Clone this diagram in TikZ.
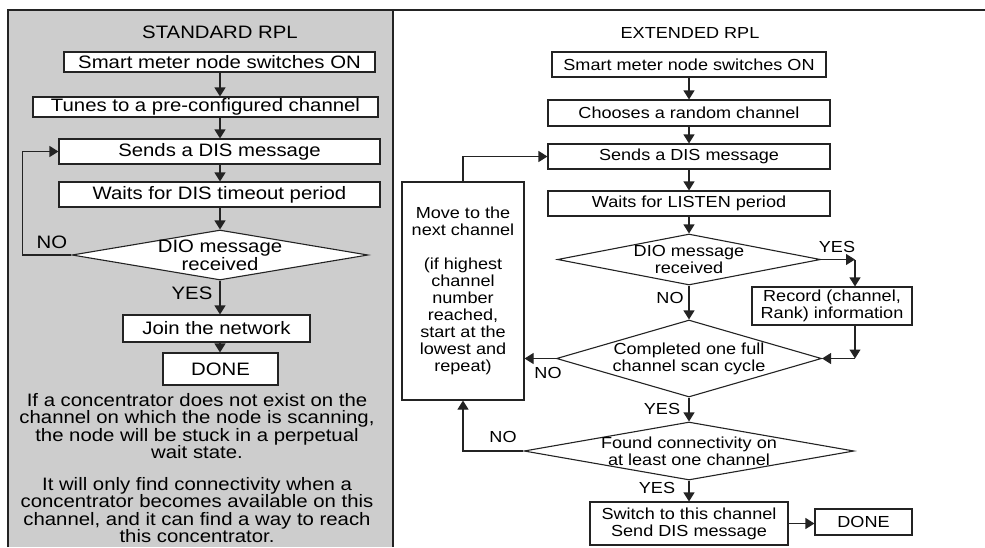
\documentclass[tikz,border=0pt]{standalone}
\usepackage{fontspec}
\setmainfont[FakeStretch=1.13]{Liberation Sans}
\usetikzlibrary{arrows.meta,shapes.geometric}
\definecolor{panelgray}{RGB}{205,205,205}
\definecolor{ink}{RGB}{35,35,35}
\begin{document}
\begin{tikzpicture}[x=1pt,y=-1pt,
  box/.style={draw=ink, line width=1.1pt, fill=white, inner sep=0pt, align=center},
  dia/.style={draw=ink, line width=1.1pt, fill=white, diamond, inner sep=0pt},
  arr/.style={draw=ink, line width=1.1pt, -{Triangle[length=9pt,width=11pt]}},
  lf/.style={font=\fontsize{18}{18}\selectfont},
  rf/.style={font=\fontsize{16}{17}\selectfont},
]
\useasboundingbox (0,0) rectangle (985,547);
\fill[panelgray] (8,10) rectangle (393,547);
\draw[ink, line width=1.2pt] (8,547) -- (8,10) -- (985,10);
\draw[ink, line width=2pt] (393,10) -- (393,547);

% ---------------- STANDARD RPL ----------------
\node[lf] (TL) at (220,32) {STANDARD RPL};
\node[box, lf, minimum width=311pt, minimum height=20pt] (L1) at (219.5,62) {Smart meter node switches ON};
\node[box, lf, minimum width=345pt, minimum height=20pt] (L2) at (205.5,107) {Tunes to a pre-configured channel};
\node[box, lf, minimum width=321pt, minimum height=25pt] (L3) at (219.5,151.5) {Sends a DIS message};
\node[box, lf, minimum width=321pt, minimum height=25pt] (L4) at (219.5,194.5) {Waits for DIS timeout period};
\node[dia, minimum width=296pt, minimum height=50pt,
      label={[lf,align=center]center:DIO message\\received}] (LD) at (220,255) {};
\node[box, lf, minimum width=187pt, minimum height=27pt] (L5) at (216.5,328.5) {Join the network};
\node[box, lf, minimum width=115pt, minimum height=32pt] (L6) at (220.5,369) {DONE};

\draw[arr] (L1.south -| LD.north) -- (L2.north -| LD.north);
\draw[arr] (L2.south -| LD.north) -- (L3.north -| LD.north);
\draw[arr] (L3.south -| LD.north) -- (L4.north -| LD.north);
\draw[arr] (L4.south -| LD.north) -- (LD.north);
\draw[arr] (LD.west) -- ++(-49,0) |- (L3.west);
\node[lf] (LNO) at (52,242) {NO};
\draw[arr] (LD.south) -- (L5.north -| LD.south);
\node[lf] (LYES) at (192,293) {YES};
\draw[arr] (L5.south -| LD.south) -- (L6.north -| LD.south);

\node[align=center, font=\fontsize{18}{17.5}\selectfont] (P1) at (197,426) {If a concentrator does not exist on the\\channel on which the node is scanning,\\the node will be stuck in a perpetual\\wait state.};
\node[align=center, font=\fontsize{18}{17.2}\selectfont] (P2) at (197,510) {It will only find connectivity when a\\concentrator becomes available on this\\channel, and it can find a way to reach\\this concentrator.};

% ---------------- EXTENDED RPL ----------------
\node[rf] (TR) at (690,33) {EXTENDED RPL};
\node[box, rf, minimum width=274pt, minimum height=25pt] (R1) at (689,64.5) {Smart meter node switches ON};
\node[box, rf, minimum width=282pt, minimum height=26pt] (R2) at (689,113) {Chooses a random channel};
\node[box, rf, minimum width=282pt, minimum height=25pt] (R3) at (689,156.5) {Sends a DIS message};
\node[box, rf, minimum width=282pt, minimum height=25pt] (R4) at (689,203.5) {Waits for LISTEN period};
\node[dia, minimum width=263pt, minimum height=51pt,
      label={[rf,align=center]center:DIO message\\received}] (RD1) at (689,259.5) {};
\node[box, rf, minimum width=160pt, minimum height=38pt] (REC) at (832,306) {Record (channel,\\Rank) information};
\node[dia, minimum width=265pt, minimum height=77pt,
      label={[rf,align=center]center:Completed one full\\channel scan cycle}] (RD2) at (689,358.5) {};
\node[dia, minimum width=330pt, minimum height=58pt,
      label={[rf,align=center]center:Found connectivity on\\at least one channel}] (RD3) at (689,451) {};
\node[box, rf, minimum width=122pt, minimum height=218pt] (MV) at (463,291) {Move to the\\next channel\\[17pt](if highest\\channel\\number\\reached,\\start at the\\lowest and\\repeat)};
\node[box, rf, minimum width=198pt, minimum height=43pt] (SW) at (689,523.5) {Switch to this channel\\Send DIS message};
\node[box, rf, minimum width=97pt, minimum height=26pt] (DN) at (863.5,522) {DONE};

\draw[arr] (R1.south) -- (R2.north);
\draw[arr] (R2.south) -- (R3.north);
\draw[arr] (R3.south) -- (R4.north);
\draw[arr] (R4.south) -- (RD1.north);
\draw[arr] (RD1.south) -- (RD2.north);
\node[rf] (RNO1) at (670,298) {NO};
\draw[arr] (RD2.south) -- (RD3.north);
\node[rf] (RYES2) at (662,409) {YES};
\draw[arr] (RD3.south) -- (SW.north);
\node[rf] (RYES3) at (657,488) {YES};

\coordinate (c1) at (855,259.5);
\coordinate (c2) at (855,358.5);
\draw[arr] (RD1.east) -- (c1);
\node[rf] (RYES1) at (837,247) {YES};
\draw[arr] (c1) -- (c1 |- REC.north);
\draw[arr] (c1 |- REC.south) -- (c2);
\draw[arr] (c2) -- (RD2.east);

\draw[arr] (RD2.west) -- (MV.east |- RD2.west);
\node[rf] (RNO2) at (548,373) {NO};
\draw[arr] (RD3.west) -| (MV.south);
\node[rf] (RNO3) at (503,437) {NO};
\draw[arr] (MV.north) |- (R3.west);
\draw[arr] (SW.east) -- (SW.east -| DN.west);
\end{tikzpicture}
\end{document}
